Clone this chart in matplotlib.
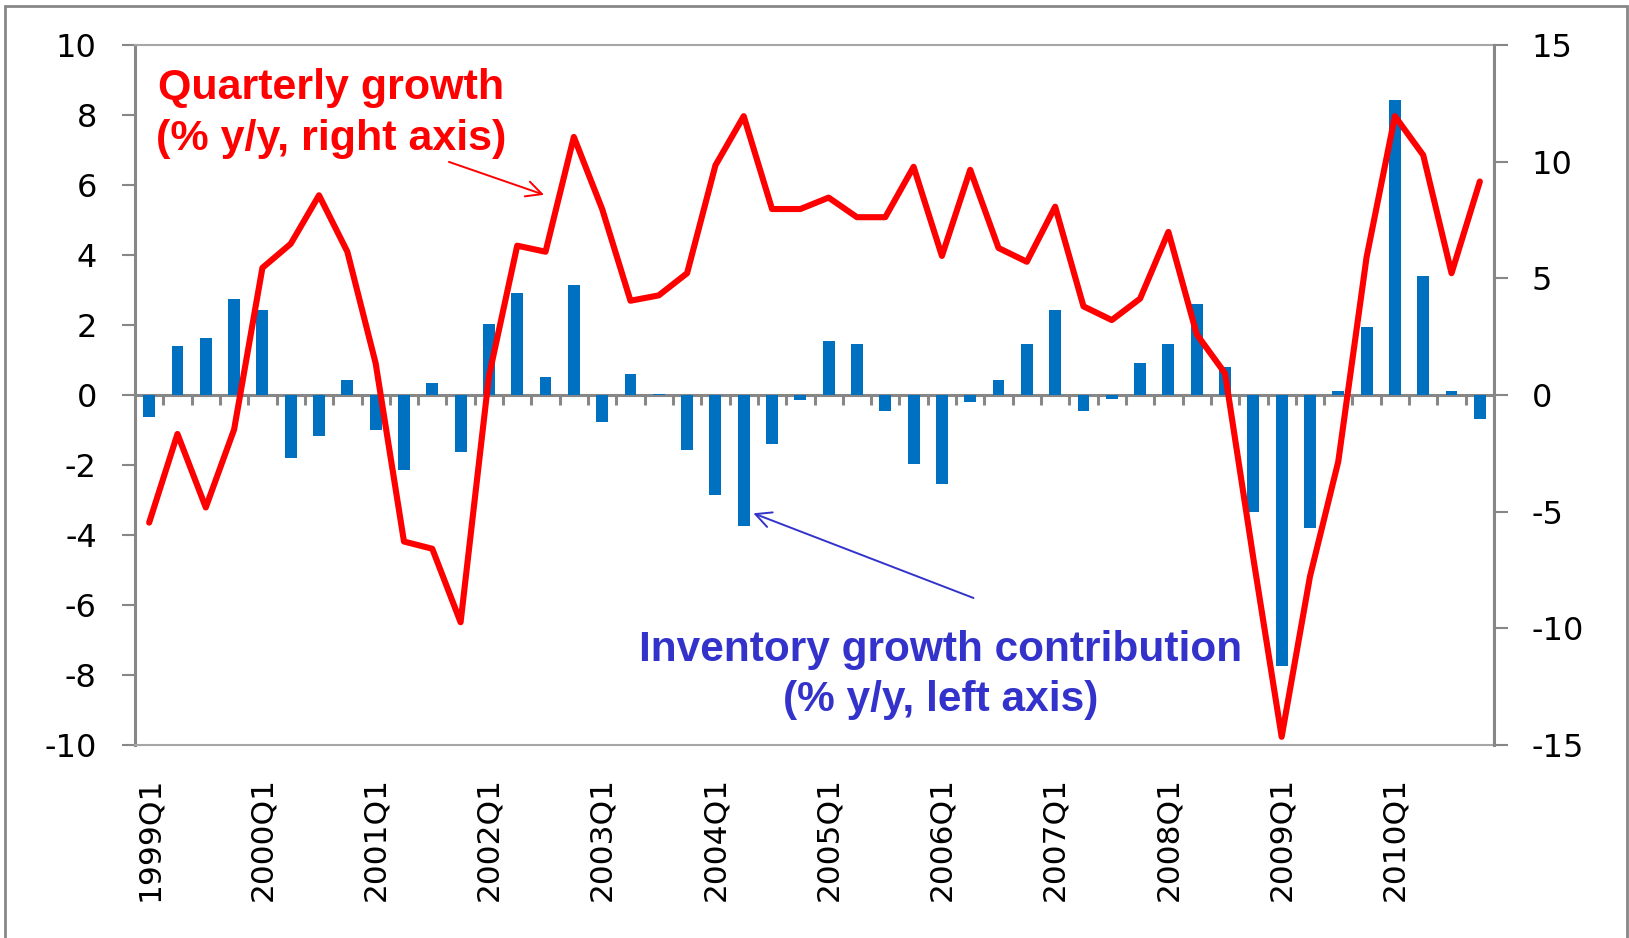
import matplotlib
matplotlib.use("Agg")
import numpy as np
from matplotlib import pyplot as plt
from matplotlib.patches import Rectangle

# ===================================================================
# Data, 1999Q1 .. 2010Q4
# ===================================================================
years = list(range(1999, 2011))
quarters = [f"{y}Q{q}" for y in years for q in range(1, 5)]

# inventory growth contribution, % y/y (left axis, bars)
inventory_contrib = [
    -0.62, 1.39, 1.63, 2.74,
    2.43, -1.81, -1.17, 0.43,
    -1.01, -2.13, 0.34, -1.64,
    2.03, 2.90, 0.50, 3.15,
    -0.77, 0.59, 0.02, -1.56,
    -2.85, -3.73, -1.40, -0.13,
    1.55, 1.46, -0.45, -1.96,
    -2.53, -0.20, 0.43, 1.46,
    2.43, -0.45, -0.12, 0.91,
    1.46, 2.59, 0.81, -3.33,
    -7.73, -3.81, 0.10, 1.94,
    8.44, 3.39, 0.10, -0.68,
]

# quarterly growth, % y/y (right axis, line)
quarterly_growth = [
    -5.47, -1.67, -4.82, -1.48,
    5.45, 6.48, 8.56, 6.14,
    1.36, -6.28, -6.59, -9.74,
    0.80, 6.40, 6.14, 11.06,
    7.97, 4.04, 4.27, 5.22,
    9.84, 11.95, 7.97, 7.97,
    8.46, 7.62, 7.62, 9.78,
    5.96, 9.65, 6.30, 5.71,
    8.07, 3.80, 3.21, 4.13,
    6.99, 2.60, 0.93, -7.00,
    -14.65, -7.78, -2.85, 5.91,
    11.95, 10.28, 5.22, 9.15,
]

left_ticks = list(range(-10, 11, 2))
right_ticks = list(range(-15, 16, 5))

# ===================================================================
# Style
# ===================================================================
BAR_BLUE = "#0070C0"
LINE_RED = "#FF0000"
TEXT_BLUE = "#3333CC"
GRAY = "#878787"
LIGHT_GRAY = "#A6A6A6"

plt.rcParams["axes.unicode_minus"] = False
W, H = 1629, 938

fig = plt.figure(figsize=(W / 100, H / 100), dpi=100)
ax = fig.add_axes([135 / W, 1 - 745 / H, 1359 / W, 700 / H])

# ----------------------------------------------------------
# Bars (left axis)
x = np.arange(len(quarters))
ax.bar(x, inventory_contrib, width=0.42, color=BAR_BLUE, zorder=2)
ax.set_xlim(-0.5, len(quarters) - 0.5)
ax.set_ylim(-10, 10)
ax.set_yticks(left_ticks)
ax.set_yticklabels([str(v) for v in left_ticks])
ax.tick_params(axis="y", direction="out", length=9.5, width=1.5,
               color=GRAY, pad=18, labelsize=23)
ax.set_xticks(x[::4])
ax.set_xticklabels(quarters[::4], rotation=90)
ax.tick_params(axis="x", length=0, pad=23, labelsize=22.5)
ax.spines["left"].set_color(GRAY)
ax.spines["left"].set_linewidth(2.2)
for side in ["top", "bottom", "right"]:
    ax.spines[side].set_color(LIGHT_GRAY)
    ax.spines[side].set_linewidth(1.5)

# zero line with category tick marks
zax = ax.secondary_xaxis(0.5)
zax.set_xticks(np.arange(0.5, len(quarters) - 1, 1))
zax.set_xticklabels([])
zax.tick_params(direction="in", length=7, width=2.2, color=GRAY)
for sp in zax.spines.values():
    sp.set_color(GRAY)
    sp.set_linewidth(2.2)

# ----------------------------------------------------------
# Line (right axis)
ax2 = ax.twinx()
ax2.plot(x, quarterly_growth, color=LINE_RED, lw=4.4,
         solid_joinstyle="round", solid_capstyle="round")
ax2.set_ylim(-15, 15)
ax2.set_yticks(right_ticks)
ax2.set_yticklabels([str(v) for v in right_ticks])
ax2.tick_params(axis="y", direction="out", length=10, width=1.5,
                color=GRAY, pad=17, labelsize=23)
ax2.spines["right"].set_color(GRAY)
ax2.spines["right"].set_linewidth(2.2)
for side in ["top", "bottom", "left"]:
    ax2.spines[side].set_visible(False)

# ----------------------------------------------------------
# Annotations
ax2.text(0.144, 0.902, "Quarterly growth\n(% y/y, right axis)",
         transform=ax2.transAxes, ha="center", va="center",
         multialignment="center", linespacing=1.35, color=LINE_RED,
         fontsize=31, fontweight="bold", family="Liberation Sans")
ax2.annotate("", xy=(0.301, 0.786), xytext=(0.231, 0.833),
             xycoords="axes fraction", textcoords="axes fraction",
             arrowprops=dict(arrowstyle="->", color=LINE_RED, lw=1.4,
                             mutation_scale=28, shrinkA=0, shrinkB=0))

ax2.text(0.593, 0.100, "Inventory growth contribution\n(% y/y, left axis)",
         transform=ax2.transAxes, ha="center", va="center",
         multialignment="center", linespacing=1.35, color=TEXT_BLUE,
         fontsize=30.5, fontweight="bold", family="Liberation Sans")
ax2.annotate("", xy=(0.455, 0.331), xytext=(0.617, 0.210),
             xycoords="axes fraction", textcoords="axes fraction",
             arrowprops=dict(arrowstyle="->", color=TEXT_BLUE, lw=1.4,
                             mutation_scale=28, shrinkA=0, shrinkB=0))

# outer chart border (bottom edge runs off the image)
fig.add_artist(Rectangle((5 / W, -0.05), 1622 / W, 1.05 - 6 / H,
                         transform=fig.transFigure, fill=False,
                         edgecolor=GRAY, lw=2))

fig.savefig("out.png", dpi=100)
